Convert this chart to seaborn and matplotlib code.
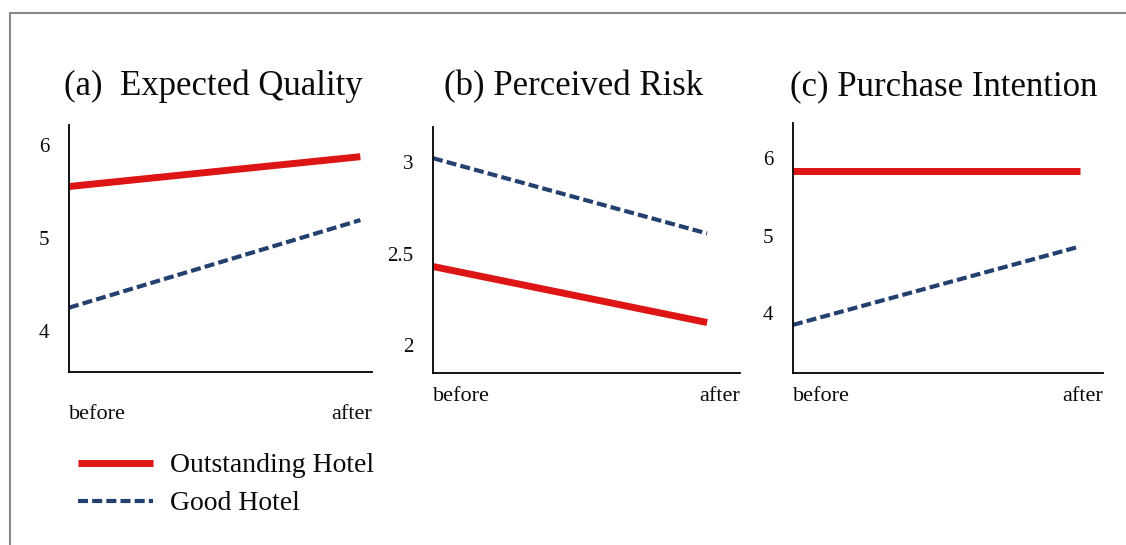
import matplotlib
matplotlib.use("Agg")
import pandas as pd
import seaborn as sns
from matplotlib import pyplot as plt
from matplotlib.lines import Line2D

# data
phases = ["before", "after"]
hotels = ["Outstanding Hotel", "Good Hotel"]
titles = ["(a)  Expected Quality", "(b) Perceived Risk", "(c) Purchase Intention"]

quality_outstanding = [5.55, 5.87]
quality_good = [4.25, 5.19]
risk_outstanding = [2.43, 2.125]
risk_good = [3.02, 2.61]
intention_outstanding = [5.83, 5.83]
intention_good = [3.85, 4.86]

yticks = [[4, 5, 6], [2, 2.5, 3], [4, 5, 6]]
yticklabels = [["4", "5", "6"], ["2", "2.5", "3"], ["4", "5", "6"]]

# layout
ylims = [(3.56, 6.21), (1.85, 3.19), (3.23, 6.45)]
xmax = [1.04, 1.12, 1.08]
axes_px = [(69, 372, 125, 372), (433, 740, 127, 373), (793, 1103, 123, 373)]
title_px = [(213, 95), (574, 95), (944, 95)]
xlabel_pad = [24, 10, 10]

W, H = 1126, 545
red = "#dd1515"
blue = "#23406f"
ink = "#0a0a0a"

rows = []
for name, outs, good in zip(titles,
                            [quality_outstanding, risk_outstanding, intention_outstanding],
                            [quality_good, risk_good, intention_good]):
    for i in range(len(phases)):
        rows.append({"panel": name, "hotel": hotels[0], "x": i, "value": outs[i]})
        rows.append({"panel": name, "hotel": hotels[1], "x": i, "value": good[i]})
df = pd.DataFrame(rows)

sns.set_theme(style="white")
plt.rcParams["font.family"] = ["Liberation Serif", "DejaVu Serif"]

fig = plt.figure(figsize=(W / 100, H / 100), dpi=100)

palette = {hotels[0]: red, hotels[1]: blue}
sizes = {hotels[0]: 5.0, hotels[1]: 3.0}
dashes = {hotels[0]: "", hotels[1]: (2.4, 1.0)}

for k, name in enumerate(titles):
    l, r, t, b = axes_px[k]
    ax = fig.add_axes([l / W, 1 - b / H, (r - l) / W, (b - t) / H])
    sub = df[df["panel"] == name]
    sns.lineplot(data=sub, x="x", y="value", hue="hotel", style="hotel", size="hotel",
                 palette=palette, sizes=sizes, dashes=dashes, legend=False, ax=ax)
    for ln in ax.get_lines():
        ln.set_solid_capstyle("butt")
        ln.set_dash_capstyle("butt")
    ax.set_xlim(0, xmax[k])
    ax.set_ylim(*ylims[k])
    ax.set_yticks(yticks[k], yticklabels[k])
    ax.set_xticks([0, xmax[k]], phases)
    ax.set_xlabel("")
    ax.set_ylabel("")
    for sp in ["top", "right"]:
        ax.spines[sp].set_visible(False)
    for sp in ["left", "bottom"]:
        ax.spines[sp].set_color("black")
        ax.spines[sp].set_linewidth(1.3)
    ax.tick_params(axis="y", length=0, pad=14, labelsize=15, labelcolor=ink)
    ax.tick_params(axis="x", length=0, pad=xlabel_pad[k], labelsize=16, labelcolor=ink)
    lbls = ax.get_xticklabels()
    lbls[0].set_ha("left")
    lbls[1].set_ha("right")
    ax.patch.set_alpha(0)
    fig.text(title_px[k][0] / W, 1 - title_px[k][1] / H, name, ha="center", va="baseline",
             fontsize=25, color=ink)

handles = [Line2D([], [], color=red, lw=5, solid_capstyle="butt"),
           Line2D([], [], color=blue, lw=3, dashes=(2.4, 1.0), dash_capstyle="butt")]
fig.legend(handles, hotels, loc="upper left", bbox_to_anchor=(78 / W, 1 - 453 / H),
           frameon=False, fontsize=20, handlelength=2.7, handletextpad=0.6,
           labelspacing=0.45, borderpad=0, borderaxespad=0, labelcolor=ink)

# grey frame of the scanned page
fig.add_artist(Line2D([10 / W, 1], [1 - 13 / H, 1 - 13 / H], color="#8a8a8a", lw=1.5,
                      transform=fig.transFigure))
fig.add_artist(Line2D([10 / W, 10 / W], [0, 1 - 13 / H], color="#8a8a8a", lw=1.5,
                      transform=fig.transFigure))

fig.savefig("out.png", dpi=100, facecolor="white")
